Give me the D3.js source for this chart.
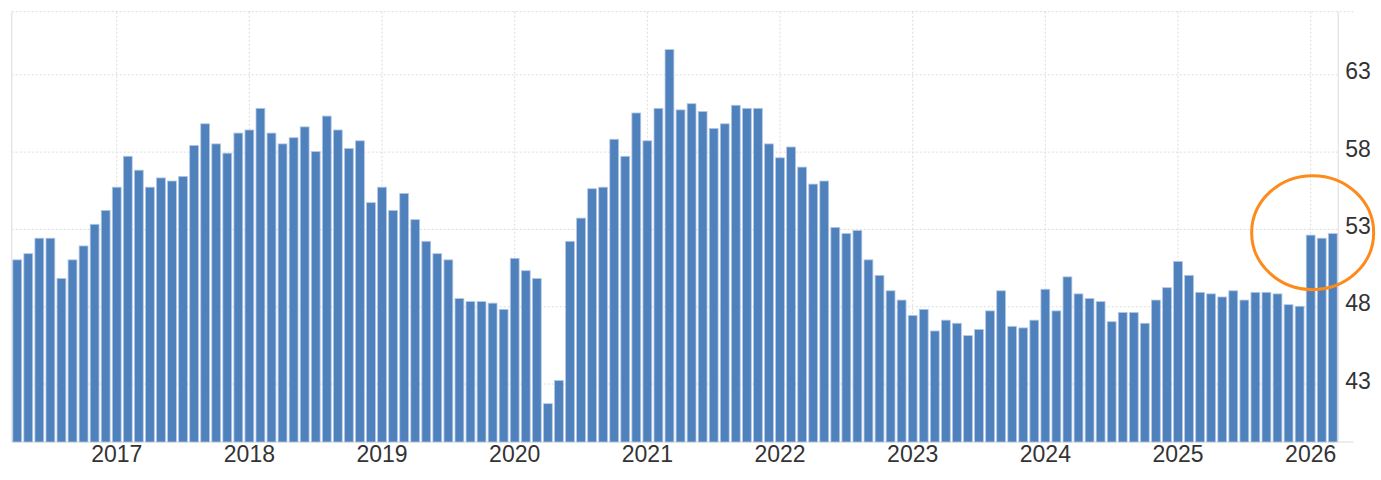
<!DOCTYPE html>
<html>
<head>
<meta charset="utf-8">
<script src="https://cdn.jsdelivr.net/npm/d3@7"></script>
<style>
  body { margin: 0; background: #fff; }
  text { font-family: "Liberation Sans", Arial, sans-serif; fill: #333; }
</style>
</head>
<body>
<svg id="chart" width="1381" height="480"></svg>
<script>
// monthly values, Apr 2016 .. Mar 2026
var startYear = 2016, startMonth = 3;   // month index 3 = April
var values = [
  51.0, 51.4, 52.4, 52.4, 49.8, 51.0, 51.9, 53.3, 54.2,
  55.7, 57.7, 56.8, 55.7, 56.3, 56.1, 56.4, 58.4, 59.8, 58.5, 57.9, 59.2,
  59.4, 60.8, 59.2, 58.5, 58.9, 59.6, 58.0, 60.3, 59.4, 58.2, 58.7, 54.7,
  55.7, 54.2, 55.3, 53.6, 52.2, 51.4, 51.0, 48.5, 48.3, 48.3, 48.2, 47.8,
  51.1, 50.3, 49.8, 41.7, 43.2, 52.2, 53.7, 55.6, 55.7, 58.8, 57.7, 60.5,
  58.7, 60.8, 64.6, 60.7, 61.1, 60.6, 59.5, 59.8, 61.0, 60.8, 60.8, 58.5,
  57.6, 58.3, 57.0, 55.9, 56.1, 53.1, 52.7, 52.9, 51.0, 50.0, 49.0, 48.4,
  47.4, 47.8, 46.4, 47.1, 46.9, 46.1, 46.5, 47.7, 49.0, 46.7, 46.6, 47.1,
  49.1, 47.7, 49.9, 48.8, 48.5, 48.3, 47.0, 47.6, 47.6, 46.9, 48.4, 49.2,
  50.9, 50.0, 48.9, 48.8, 48.6, 49.0, 48.4, 48.9, 48.9, 48.8, 48.1, 48.0,
  52.6, 52.4, 52.7
];
var yTicks = [43, 48, 53, 58, 63];
var yDomain = [39.22, 67.05];
var highlightAt = 117;   // the circle is centred on Jan 2026

var months = values.map(function(v, i) { return new Date(startYear, startMonth + i, 1); });
var data = values.map(function(v, i) { return { date: months[i], value: v }; });

var svg = d3.select("#chart");
var plotLeft = 11.7, plotRight = 1338.3, plotTop = 11.7, plotBottom = 442;

var x = d3.scaleBand()
  .domain(months.map(function(d) { return +d; }))
  .range([plotLeft, plotRight])
  .paddingInner(0.2)
  .paddingOuter(0.1);

var y = d3.scaleLinear().domain(yDomain).range([plotBottom, plotTop]);

var janTicks = months.filter(function(d) { return d.getMonth() === 0; }).map(function(d) { return +d; });

// horizontal gridlines
svg.append("g")
  .attr("class", "grid")
  .attr("transform", "translate(" + plotLeft + ",0)")
  .call(d3.axisRight(y).tickValues(yTicks).tickSize(plotRight - plotLeft).tickFormat(""))
  .call(function(g) { g.select(".domain").remove(); })
  .selectAll("line")
    .attr("stroke", "#dcdcdc")
    .attr("stroke-dasharray", "2,2");

// top border, dotted like the grid
svg.append("line").attr("x1", plotLeft).attr("x2", plotRight + 15).attr("y1", plotTop).attr("y2", plotTop)
  .attr("stroke", "#dcdcdc").attr("stroke-dasharray", "2,2");

// vertical gridlines on January (band axis already centres ticks)
svg.append("g")
  .attr("class", "grid")
  .attr("transform", "translate(0," + plotTop + ")")
  .call(d3.axisBottom(x).tickValues(janTicks).tickSize(plotBottom - plotTop).tickFormat(""))
  .call(function(g) { g.select(".domain").remove(); })
  .selectAll("line")
    .attr("stroke", "#dcdcdc")
    .attr("stroke-dasharray", "2,2");

// plot frame
svg.append("line").attr("x1", plotLeft).attr("x2", plotLeft).attr("y1", plotTop).attr("y2", plotBottom)
  .attr("stroke", "#e6e6e6").attr("stroke-width", 1.5);
svg.append("line").attr("x1", plotRight).attr("x2", plotRight).attr("y1", plotTop).attr("y2", plotBottom)
  .attr("stroke", "#e6e6e6").attr("stroke-width", 1.5);
svg.append("line").attr("x1", plotLeft).attr("x2", plotRight + 15).attr("y1", plotBottom).attr("y2", plotBottom)
  .attr("stroke", "#e6e6e6").attr("stroke-width", 1.5);

// bars
svg.append("g")
  .selectAll("rect")
  .data(data)
  .enter()
  .append("rect")
    .attr("x", function(d) { return x(+d.date); })
    .attr("width", x.bandwidth())
    .attr("y", function(d) { return y(d.value); })
    .attr("height", function(d) { return plotBottom - y(d.value); })
    .attr("fill", "#4f81bd")
    .attr("stroke", "#b4c8e4")
    .attr("stroke-width", 0.8);

// x axis labels
var xAxis = svg.append("g")
  .attr("transform", "translate(0," + plotBottom + ")")
  .call(d3.axisBottom(x).tickValues(janTicks).tickSize(0).tickPadding(4)
    .tickFormat(function(d) { return new Date(d).getFullYear(); }));
xAxis.select(".domain").remove();
xAxis.selectAll("text").style("font-size", "23px").attr("fill", "#333");

// y axis labels on the right
var yAxis = svg.append("g")
  .attr("transform", "translate(" + plotRight + ",0)")
  .call(d3.axisRight(y).tickValues(yTicks).tickSize(0).tickPadding(7));
yAxis.select(".domain").remove();
yAxis.selectAll("text").style("font-size", "23px").attr("fill", "#333").attr("dy", "0.2em");

// highlight circle around the latest months
var hv = d3.mean(values.slice(highlightAt));
svg.append("ellipse")
  .attr("cx", x(+months[highlightAt]) + x.bandwidth() / 2 + 2)
  .attr("cy", y(hv) - 3)
  .attr("rx", 61)
  .attr("ry", 57)
  .attr("fill", "none")
  .attr("stroke", "#ff8a1c")
  .attr("stroke-width", 3);
</script>
</body>
</html>
